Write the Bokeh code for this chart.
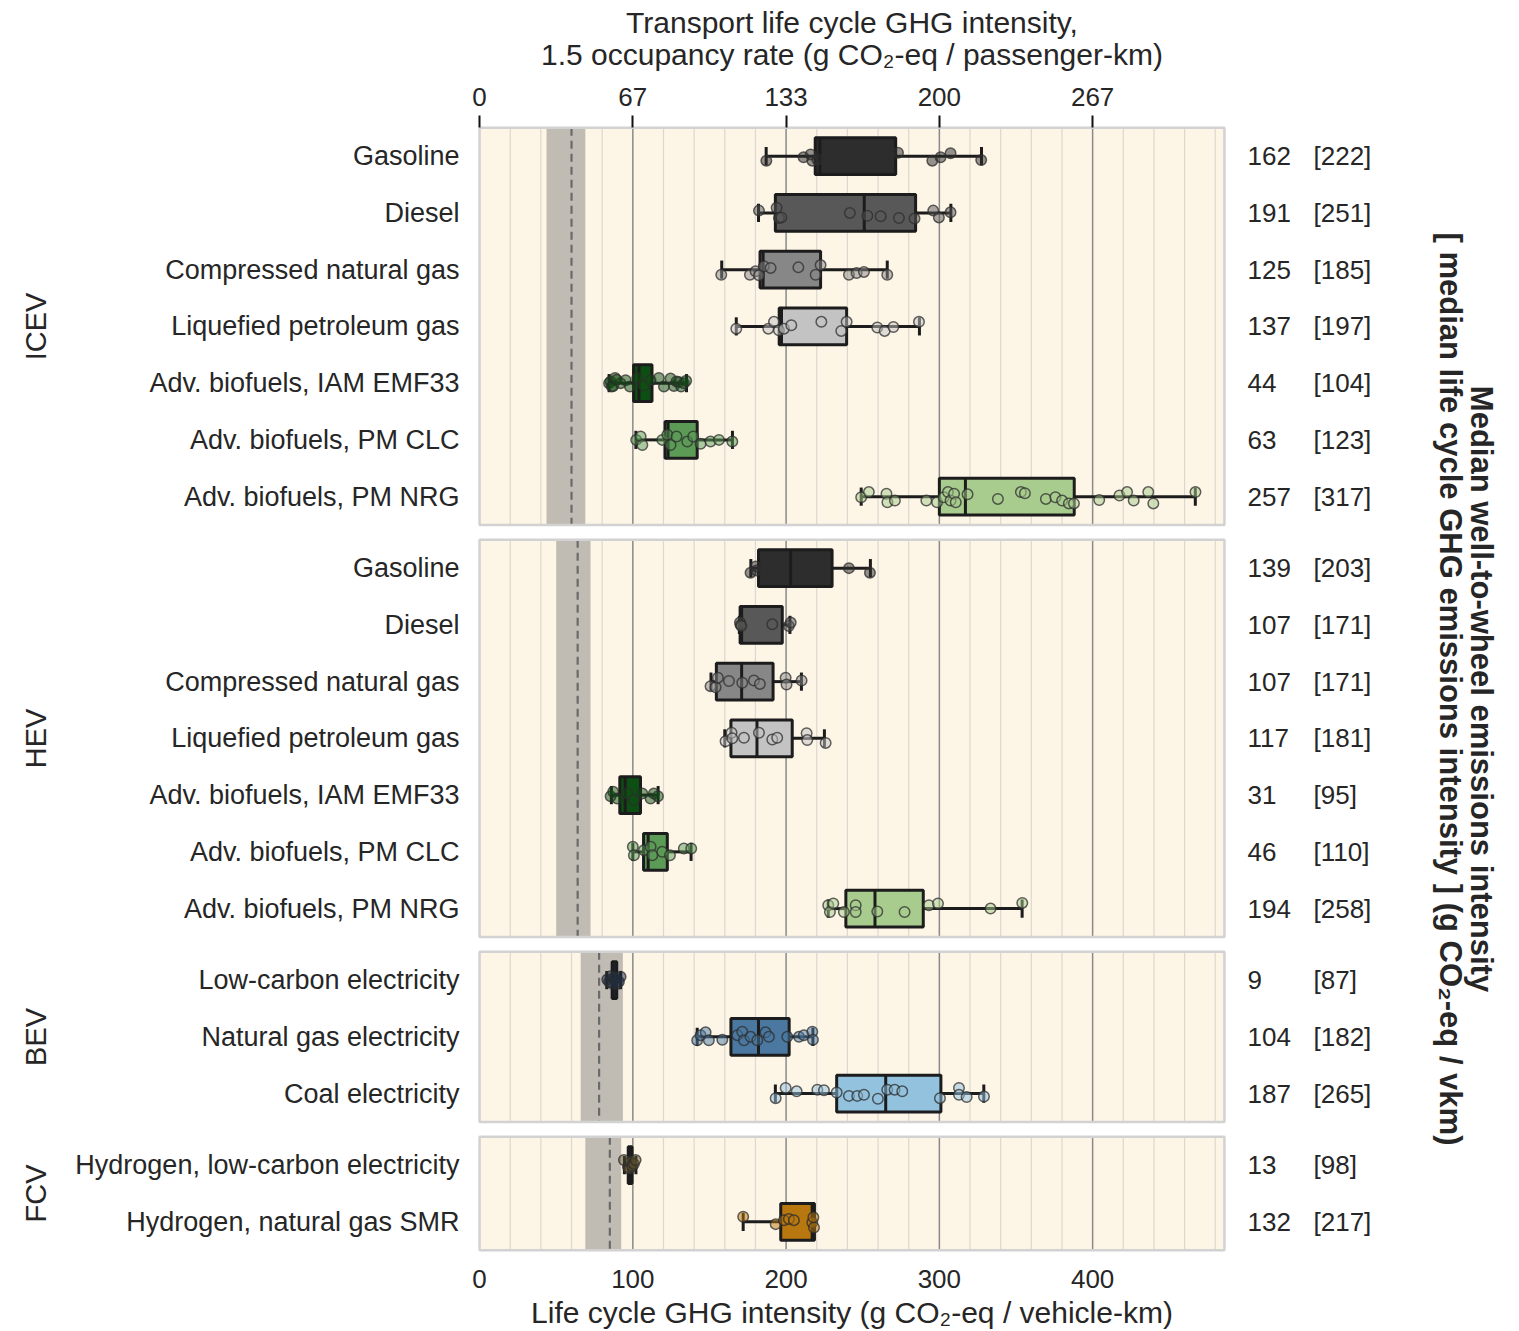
import numpy as np
from bokeh.plotting import figure
from bokeh.models import Range1d, LinearAxis, FixedTicker, ColumnDataSource
from bokeh.embed import file_html
from bokeh.resources import INLINE

# ---------------- data ----------------
group_names = ["ICEV", "HEV", "BEV", "FCV"]
group_sizes = [7, 7, 3, 2]

row_labels = [
    "Gasoline", "Diesel", "Compressed natural gas", "Liquefied petroleum gas",
    "Adv. biofuels, IAM EMF33", "Adv. biofuels, PM CLC", "Adv. biofuels, PM NRG",
    "Gasoline", "Diesel", "Compressed natural gas", "Liquefied petroleum gas",
    "Adv. biofuels, IAM EMF33", "Adv. biofuels, PM CLC", "Adv. biofuels, PM NRG",
    "Low-carbon electricity", "Natural gas electricity", "Coal electricity",
    "Hydrogen, low-carbon electricity", "Hydrogen, natural gas SMR",
]

# life cycle GHG intensity (g CO2-eq / vehicle-km), box statistics
whisker_lo = [187, 182, 158, 167.5, 84.5, 102, 249,
              177, 169.5, 151, 160, 86, 100, 227.5,
              83, 142, 193,
              94.5, 172]
q1 = [219, 193, 183, 195.5, 100.5, 121, 300,
      182, 170, 154.5, 164, 91.5, 107, 239,
      86.5, 164, 233,
      97, 196.5]
median_lc = [222, 251, 185, 197, 104, 123, 317,
             203, 171, 171, 181, 95, 110, 258,
             87, 182, 265,
             98, 217]
q3 = [271.5, 284.5, 222.5, 239.5, 112.5, 142, 388,
      230, 197.5, 191.5, 204, 105, 122.5, 289.5,
      89.5, 202, 301,
      99.5, 218.5]
whisker_hi = [327.5, 307.5, 266, 287, 135, 165, 467,
              255, 202.5, 210, 225, 116.5, 138, 354,
              92, 217.5, 329,
              102, 218.5]

# median well-to-wheel intensity (g CO2-eq / vkm)
median_wtw = [162, 191, 125, 137, 44, 63, 257,
              139, 107, 107, 117, 31, 46, 194,
              9, 104, 187,
              13, 132]

box_colors = ["#2d2d2d", "#585858", "#878787", "#c3c3c3", "#0d4f12", "#5c9b56", "#a8cc8e",
              "#2d2d2d", "#585858", "#878787", "#c3c3c3", "#0d4f12", "#5c9b56", "#a8cc8e",
              "#1b2b45", "#4a78a1", "#93c2de",
              "#5a4d2c", "#b8770f"]

# vehicle (production) emissions range and median, per vehicle type
prod_lo = [43.7, 50, 66, 69]
prod_hi = [69, 72.4, 93.5, 92.4]
prod_median = [60, 64, 78, 85]

# individual observations (value) and vertical jitter (% of a row)
pts_x = [
    [187.1, 211.4, 216, 217.1, 220.4, 229, 253, 267.1, 273, 295.4, 300.8, 307.3, 327.3],
    [182.3, 193.8, 195.3, 196.9, 241.6, 253, 261.7, 273.6, 283.8, 296, 299.7, 307.3],
    [157.7, 176.4, 180.1, 182.3, 185.5, 189.9, 208, 219.3, 222.5, 241, 246, 250.8, 266],
    [167.5, 188.4, 192.1, 195.3, 198.6, 203.4, 223, 236, 239.5, 259.5, 264.3, 270, 286.7],
    [84.5, 85.5, 86.3, 87.2, 88.4, 89.4, 92, 95.3, 98.1, 102.9, 107.2, 111.6, 117, 120.3,
     124.6, 126.8, 128.5, 130, 131.5, 133.3, 134.8],
    [102.2, 105.1, 106.2, 119.2, 122.5, 124.6, 128.5, 135.5, 139.4, 144.2, 150.7, 156.2, 164.9],
    [249, 254, 265.5, 266.1, 271, 291.5, 298.5, 302.9, 305.6, 307.3, 309.6, 310.7, 318.4, 338.2,
     353.2, 355.8, 369.5, 375.7, 380.1, 384.5, 387.8, 404.3, 417.5, 422.5, 426.8, 436.3, 439.6, 467.1],
    [176.8, 180.2, 180.7, 191.6, 213.8, 218.2, 241, 254.7],
    [169.9, 170.3, 170.8, 191, 201.8, 203],
    [150.7, 154, 155.5, 162.7, 171.4, 179, 182.9, 199.7, 200.3, 210.1],
    [160.5, 164.4, 164.9, 172.5, 182.3, 191, 194.2, 213.4, 213.8, 225.8],
    [85.5, 87.2, 89.8, 96.4, 100.7, 106.2, 111.6, 113.7, 116.4],
    [100, 100.7, 107.2, 111.6, 112.7, 119.2, 124.2, 133.3, 138.1],
    [227.5, 228.6, 230.8, 237.7, 245.4, 245.4, 259.5, 277.3, 293.2, 299.1, 333.4, 354.1],
    [83.3, 84.5, 85.5, 86.6, 87.5, 88.7, 89.5, 90.9, 92],
    [142, 144.2, 147.5, 149.6, 158.4, 168.2, 171.4, 172.5, 176.8, 181.2, 186.6, 188.8, 200.8,
     208.4, 211.6, 217.1, 217.5],
    [193.2, 199.7, 206.9, 220.4, 224.7, 233, 241, 246.4, 250.8, 259.9, 266, 270.8, 275.8, 300.4,
     312.8, 312.8, 317.8, 329.1],
    [94.2, 96.8, 97.5, 98.5, 99.5, 100.7, 101.8],
    [172, 193.2, 198.6, 201.8, 205.1, 217.1, 218.2, 217.8],
]
pts_dy = [
    [8, 2, -3, 8, 6, -4, -6, -3, -6, 8, 2, -5, 7],
    [-4, -9, 9, 8, 0, 5, 6, 9, 10, -4, 8, -1],
    [9, 9, 3, 10, -6, -3, -4, 9, -8, 9, 6, 4, 9],
    [4, 4, -8, 7, 4, -2, -8, 8, -8, 2, 8, 1, -8],
    [0, -3, 6, 5, -9, -6, 0, -5, 6, -9, 4, -5, -9, 6, -8, 5, -3, -2, 6, 0, -4],
    [0, -6, 9, 0, -9, 9, -6, 3, -6, 7, 3, 0, 3],
    [1, -8, -5, 10, 7, 7, 10, 1, -8, 7, -5, 10, -4, 4, -8, -6, 4, 1, 7, 12, 12, 6, -2, -8, 7, -8, 12, -8],
    [8, -3, 4, 6, 6, 6, 0, 8],
    [-4, 0, 2, -1, 2, -4],
    [8, 10, -7, -1, 2, -2, 4, -7, 5, -2],
    [5, -10, 0, -1, -10, 2, -1, -9, 3, 8],
    [2, -6, 6, -3, 9, -3, 6, -3, 2],
    [-9, 6, -3, -9, 6, 0, 6, -6, -6],
    [-6, 6, -9, 6, -6, 6, 5, 6, -6, -9, 0, -10],
    [-1, 3, -7, 6, -4, -3, 7, 3, -6],
    [6, -3, -8, 6, 5, -3, -9, 6, 0, 6, -8, 0, 0, 0, -3, -9, 5],
    [8, -10, -4, -7, -6, -2, 4, 4, 2, 9, -7, -7, -4, 8, -10, 2, 6, 5],
    [-9, 3, 6, -6, 2, -2, -9],
    [-9, 4, -3, -5, -3, 1, 10, -8],
]

bottom_ticks = [0, 100, 200, 300, 400]
bottom_tick_labels = ["0", "100", "200", "300", "400"]
top_tick_labels = ["0", "67", "133", "200", "267"]   # 1.5 occupancy rate

x_title_top_1 = "Transport life cycle GHG intensity,"
x_title_top_2 = "1.5 occupancy rate (g CO\u2082-eq / passenger-km)"
x_title_bottom = "Life cycle GHG intensity (g CO\u2082-eq / vehicle-km)"
right_title_1 = "Median well-to-wheel emissions intensity"
right_title_2 = "[ median life cycle GHG emissions intensity ] (g CO\u2082-eq / vkm)"

# ---------------- layout helpers ----------------
ROW = 100
GAP = 26
X_MAX = 486
BOX_H = 65
CAP_H = 32

tops = []
t = 0
for s in group_sizes:
    tops.append(t)
    t += s * ROW + GAP
total = t - GAP

row_y = []
for gi, s in enumerate(group_sizes):
    for i in range(s):
        row_y.append(tops[gi] + i * ROW + ROW // 2)
group_centers = [tops[gi] + group_sizes[gi] * ROW // 2 for gi in range(len(group_sizes))]
bottoms = [tops[gi] + group_sizes[gi] * ROW for gi in range(len(group_sizes))]

FONT = "Liberation Sans"
TXT = "#262626"

W, H = 1519, 1331
FW, FH = 751, 1127
BL, BT = 476, 125

p = figure(frame_width=FW, frame_height=FH,
           x_range=Range1d(-2, 488), y_range=Range1d(total + 4, -4),
           output_backend="svg", toolbar_location=None, title=None,
           min_border_left=BL, min_border_right=W - BL - FW,
           min_border_top=BT, min_border_bottom=H - BT - FH,
           background_fill_color="white", border_fill_color="white", outline_line_color=None)
p.xgrid.visible = False
p.ygrid.visible = False

# panel backgrounds
p.quad(left=[0] * 4, right=[X_MAX] * 4, top=tops, bottom=bottoms,
       fill_color="#fdf5e6", line_color=None)

# grid lines inside each panel
minor_x = [v for v in range(20, X_MAX, 20) if v % 100 != 0]
major_x = [100, 200, 300, 400]
mx0, my0, my1 = [], [], []
for gi in range(4):
    for v in minor_x:
        mx0.append(v); my0.append(tops[gi]); my1.append(bottoms[gi])
p.segment(x0=mx0, x1=mx0, y0=my0, y1=my1, line_color="#dcd8cf", line_width=1.2)
Mx0, My0, My1 = [], [], []
for gi in range(4):
    for v in major_x:
        Mx0.append(v); My0.append(tops[gi]); My1.append(bottoms[gi])
p.segment(x0=Mx0, x1=Mx0, y0=My0, y1=My1, line_color="#8a8a8a", line_width=1.5)

# vehicle emissions band + median dashed line
p.quad(left=prod_lo, right=prod_hi, top=tops, bottom=bottoms,
       fill_color="#bdb8b1", fill_alpha=0.95, line_color=None)
p.segment(x0=prod_median, x1=prod_median, y0=tops, y1=bottoms,
          line_color="#6a6a6a", line_width=2.2, line_dash="8 5")

# panel borders
p.quad(left=[0] * 4, right=[X_MAX] * 4, top=tops, bottom=bottoms,
       fill_color=None, line_color="#d2d2d2", line_width=2.5)

# boxes
src = ColumnDataSource(dict(
    y=row_y, wl=whisker_lo, q1=q1, med=median_lc, q3=q3, wh=whisker_hi, color=box_colors,
    top=[y - BOX_H / 2 for y in row_y], bot=[y + BOX_H / 2 for y in row_y],
    ctop=[y - CAP_H / 2 for y in row_y], cbot=[y + CAP_H / 2 for y in row_y],
))
EDGE = "#1c1c1c"
p.segment(x0="wl", x1="q1", y0="y", y1="y", source=src, line_color=EDGE, line_width=3)
p.segment(x0="q3", x1="wh", y0="y", y1="y", source=src, line_color=EDGE, line_width=3)
p.segment(x0="wl", x1="wl", y0="ctop", y1="cbot", source=src, line_color=EDGE, line_width=3)
p.segment(x0="wh", x1="wh", y0="ctop", y1="cbot", source=src, line_color=EDGE, line_width=3)
p.quad(left="q1", right="q3", top="top", bottom="bot", source=src,
       fill_color="color", line_color=EDGE, line_width=3)
p.segment(x0="med", x1="med", y0="top", y1="bot", source=src, line_color=EDGE, line_width=3)

# points
px, py, pc = [], [], []
for r in range(len(row_y)):
    for xv, dv in zip(pts_x[r], pts_dy[r]):
        px.append(xv); py.append(row_y[r] + dv); pc.append(box_colors[r])
p.scatter(x=px, y=py, size=10.5, fill_color=pc, fill_alpha=0.5,
          line_color="#2e2e2e", line_alpha=0.75, line_width=1.5)

# ---------------- axes ----------------
def style_axis(ax, size):
    ax.axis_line_color = None
    ax.major_tick_line_color = None
    ax.minor_tick_line_color = None
    ax.major_tick_out = 0
    ax.major_tick_in = 0
    ax.major_label_text_font = FONT
    ax.major_label_text_font_size = size
    ax.major_label_text_color = TXT
    ax.axis_label_text_font = FONT
    ax.axis_label_text_color = TXT
    ax.axis_label_text_font_style = "normal"

# bottom
xb = p.xaxis[0]
xb.ticker = FixedTicker(ticks=bottom_ticks)
xb.major_label_overrides = {t: l for t, l in zip(bottom_ticks, bottom_tick_labels)}
style_axis(xb, "26px")
xb.major_label_standoff = 17
xb.axis_label = x_title_bottom
xb.axis_label_text_font_size = "30px"
xb.axis_label_standoff = 5

# top
xt = LinearAxis(ticker=FixedTicker(ticks=bottom_ticks),
                major_label_overrides={t: l for t, l in zip(bottom_ticks, top_tick_labels)})
style_axis(xt, "26px")
xt.major_tick_line_color = "#111111"
xt.major_tick_line_width = 2
xt.major_tick_out = 10
xt.major_tick_in = 2
xt.major_label_standoff = 10
xt.axis_label = x_title_top_2
xt.axis_label_text_font_size = "30px"
xt.axis_label_standoff = 14
p.add_layout(xt, "above")

xt2 = LinearAxis(ticker=FixedTicker(ticks=[]))
style_axis(xt2, "26px")
xt2.major_label_standoff = 0
xt2.axis_label = x_title_top_1
xt2.axis_label_text_font_size = "30px"
xt2.axis_label_standoff = -4
p.add_layout(xt2, "above")

# left: row labels
yl = p.yaxis[0]
yl.ticker = FixedTicker(ticks=row_y)
yl.major_label_overrides = {y: l for y, l in zip(row_y, row_labels)}
style_axis(yl, "27px")
yl.major_label_standoff = 17

# left: vehicle types
yg = LinearAxis(ticker=FixedTicker(ticks=group_centers),
                major_label_overrides={y: l for y, l in zip(group_centers, group_names)})
style_axis(yg, "29px")
yg.major_label_orientation = "vertical"
yg.major_label_standoff = 20
p.add_layout(yg, "left")

# right: median well-to-wheel
yr1 = LinearAxis(ticker=FixedTicker(ticks=row_y),
                 major_label_overrides={y: str(v) for y, v in zip(row_y, median_wtw)})
style_axis(yr1, "26px")
yr1.major_label_standoff = 20
p.add_layout(yr1, "right")

# right: [median life cycle]
yr2 = LinearAxis(ticker=FixedTicker(ticks=row_y),
                 major_label_overrides={y: "[%d]" % v for y, v in zip(row_y, median_lc)})
style_axis(yr2, "26px")
yr2.major_label_standoff = 20
yr2.axis_label = right_title_2
yr2.axis_label_text_font_size = "31px"
yr2.axis_label_text_font_style = "bold"
yr2.axis_label_standoff = 59
p.add_layout(yr2, "right")

yr3 = LinearAxis(ticker=FixedTicker(ticks=[]))
style_axis(yr3, "26px")
yr3.major_label_standoff = 0
yr3.axis_label = right_title_1
yr3.axis_label_text_font_size = "31px"
yr3.axis_label_text_font_style = "bold"
yr3.axis_label_standoff = -8
p.add_layout(yr3, "right")

open("out.html", "w").write(file_html(p, INLINE))
